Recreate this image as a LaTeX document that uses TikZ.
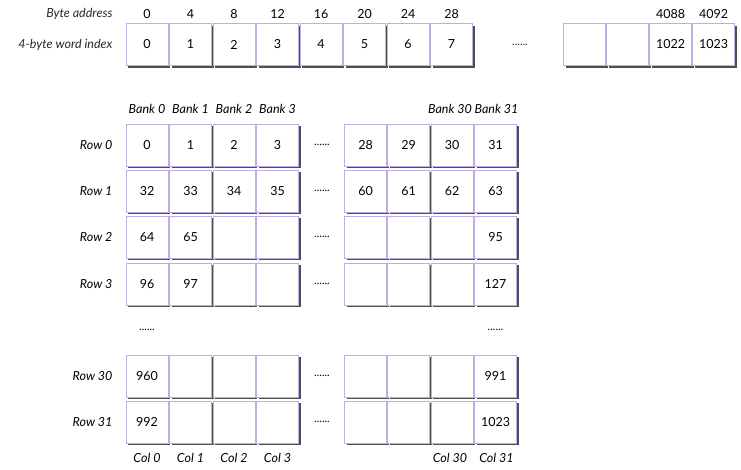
\documentclass[tikz,border=0pt]{standalone}
\usepackage{fontspec}
\setmainfont{Lato}
\usetikzlibrary{shadows}

\definecolor{boxline}{RGB}{190,174,228}
\definecolor{boxshade}{RGB}{80,76,88}
\definecolor{inktext}{RGB}{40,40,40}

\begin{document}
\begin{tikzpicture}[x=1pt,y=-1pt,
    every node/.style={font=\fontsize{12.5}{14}\selectfont,text=inktext},
    cell/.style={draw=boxline,line width=0.9pt,fill=white,minimum size=42pt,inner sep=0pt,
      font=\fontsize{12.5}{14}\selectfont,
      drop shadow={shadow xshift=2pt,shadow yshift=-2pt,fill=boxshade,opacity=1}},
    lab/.style={font=\fontsize{12.5}{14}\selectfont\itshape},
    dots/.style={font=\fontsize{11}{12}\selectfont}]

      \useasboundingbox (0,0) rectangle (741,469);

      % word array
      \node[lab,anchor=east] (byte) at (116,14) {Byte address};
      \node[lab,anchor=east] (word) at (116,44.5) {4-byte word index};

      \begin{scope}[every node/.style={cell}]
        \node (w0)    at (147,44.5)   {0};
        \node (w1)    at (190.5,44.5) {1};
        \node (w2)    at (234,44.5)   {2};
        \node (w3)    at (277.5,44.5) {3};
        \node (w4)    at (321,44.5)   {4};
        \node (w5)    at (364.5,44.5) {5};
        \node (w6)    at (408,44.5)   {6};
        \node (w7)    at (451.5,44.5) {7};
        \node (w1020) at (584.5,44.5) {};
        \node (w1021) at (627.5,44.5) {};
        \node (w1022) at (670.5,44.5) {1022};
        \node (w1023) at (713.5,44.5) {1023};
      \end{scope}
      \node[dots] (wdots) at (520,44.5) {......};

      \begin{scope}[every node/.style={font=\fontsize{12.5}{14}\selectfont}]
        \node (a0)    at (147,14)   {0};
        \node (a4)    at (190.5,14) {4};
        \node (a8)    at (234,14)   {8};
        \node (a12)   at (277.5,14) {12};
        \node (a16)   at (321,14)   {16};
        \node (a20)   at (364.5,14) {20};
        \node (a24)   at (408,14)   {24};
        \node (a28)   at (451.5,14) {28};
        \node (a4088) at (670.5,14) {4088};
        \node (a4092) at (713.5,14) {4092};
      \end{scope}

      % banks
      \begin{scope}[every node/.style={lab}]
        \node (bank0)  at (147,109)   {Bank 0};
        \node (bank1)  at (190.5,109) {Bank 1};
        \node (bank2)  at (234,109)   {Bank 2};
        \node (bank3)  at (277.5,109) {Bank 3};
        \node (bank30) at (450,109)   {Bank 30};
        \node (bank31) at (496.5,109) {Bank 31};

        \node[anchor=east] (row0)  at (116,145) {Row 0};
        \node[anchor=east] (row1)  at (116,191) {Row 1};
        \node[anchor=east] (row2)  at (116,237) {Row 2};
        \node[anchor=east] (row3)  at (116,284) {Row 3};
        \node[anchor=east] (row30) at (116,376) {Row 30};
        \node[anchor=east] (row31) at (116,422) {Row 31};

        \node (col0)  at (147,458)   {Col 0};
        \node (col1)  at (190.5,458) {Col 1};
        \node (col2)  at (234,458)   {Col 2};
        \node (col3)  at (277.5,458) {Col 3};
        \node (col30) at (450,458)   {Col 30};
        \node (col31) at (496.5,458) {Col 31};
      \end{scope}

      \begin{scope}[every node/.style={cell}]
        % row 0
        \node (r0c0)  at (147,145)   {0};
        \node (r0c1)  at (190.5,145) {1};
        \node (r0c2)  at (234,145)   {2};
        \node (r0c3)  at (277.5,145) {3};
        \node (r0c28) at (365.5,145) {28};
        \node (r0c29) at (408.5,145) {29};
        \node (r0c30) at (452,145)   {30};
        \node (r0c31) at (495.5,145) {31};
        % row 1
        \node (r1c0)  at (147,191)   {32};
        \node (r1c1)  at (190.5,191) {33};
        \node (r1c2)  at (234,191)   {34};
        \node (r1c3)  at (277.5,191) {35};
        \node (r1c28) at (365.5,191) {60};
        \node (r1c29) at (408.5,191) {61};
        \node (r1c30) at (452,191)   {62};
        \node (r1c31) at (495.5,191) {63};
        % row 2
        \node (r2c0)  at (147,237)   {64};
        \node (r2c1)  at (190.5,237) {65};
        \node (r2c2)  at (234,237)   {};
        \node (r2c3)  at (277.5,237) {};
        \node (r2c28) at (365.5,237) {};
        \node (r2c29) at (408.5,237) {};
        \node (r2c30) at (452,237)   {};
        \node (r2c31) at (495.5,237) {95};
        % row 3
        \node (r3c0)  at (147,284)   {96};
        \node (r3c1)  at (190.5,284) {97};
        \node (r3c2)  at (234,284)   {};
        \node (r3c3)  at (277.5,284) {};
        \node (r3c28) at (365.5,284) {};
        \node (r3c29) at (408.5,284) {};
        \node (r3c30) at (452,284)   {};
        \node (r3c31) at (495.5,284) {127};
        % row 30
        \node (r30c0)  at (147,376)   {960};
        \node (r30c1)  at (190.5,376) {};
        \node (r30c2)  at (234,376)   {};
        \node (r30c3)  at (277.5,376) {};
        \node (r30c28) at (365.5,376) {};
        \node (r30c29) at (408.5,376) {};
        \node (r30c30) at (452,376)   {};
        \node (r30c31) at (495.5,376) {991};
        % row 31
        \node (r31c0)  at (147,422)   {992};
        \node (r31c1)  at (190.5,422) {};
        \node (r31c2)  at (234,422)   {};
        \node (r31c3)  at (277.5,422) {};
        \node (r31c28) at (365.5,422) {};
        \node (r31c29) at (408.5,422) {};
        \node (r31c30) at (452,422)   {};
        \node (r31c31) at (495.5,422) {1023};
      \end{scope}

      \begin{scope}[every node/.style={dots}]
        \node (d0)  at (322,145) {......};
        \node (d1)  at (322,191) {......};
        \node (d2)  at (322,237) {......};
        \node (d3)  at (322,284) {......};
        \node (d30) at (322,376) {......};
        \node (d31) at (322,422) {......};
        \node (vd0)  at (147,330)   {......};
        \node (vd31) at (495.5,330) {......};
      \end{scope}

    \end{tikzpicture}
\end{document}
